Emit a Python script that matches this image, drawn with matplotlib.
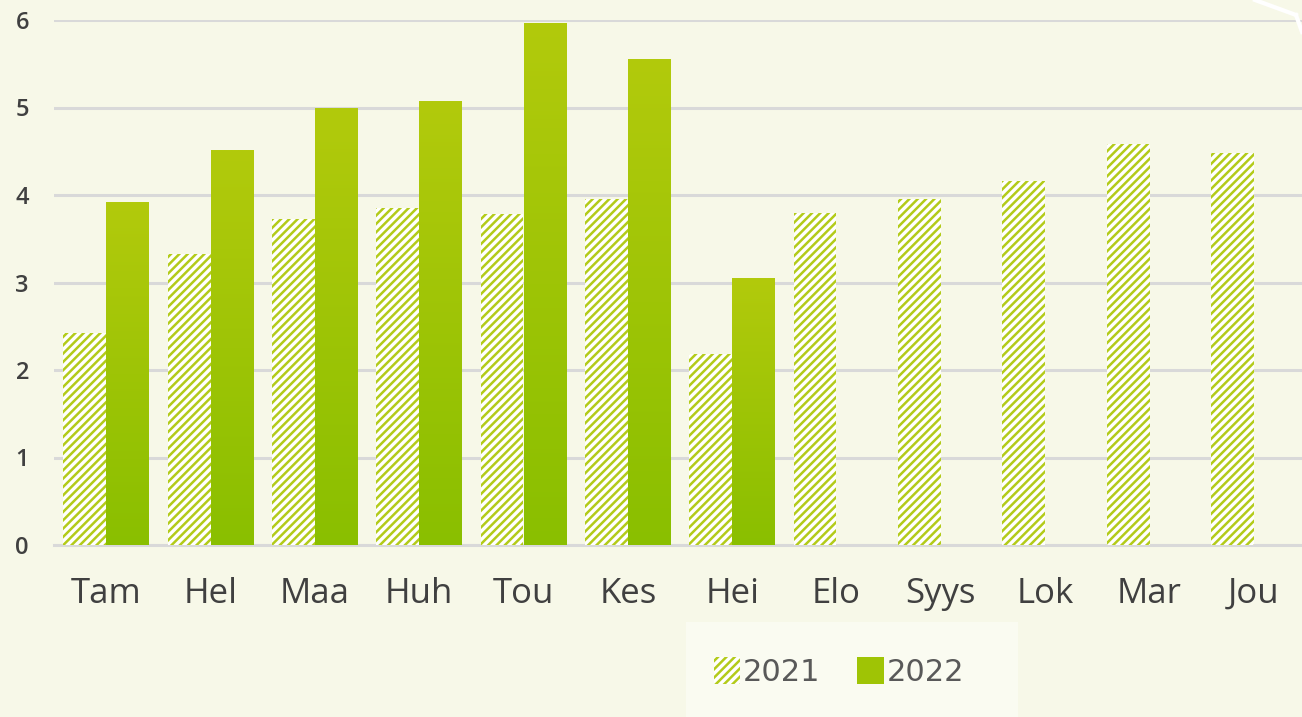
import numpy as np
import matplotlib
matplotlib.use('Agg')
import matplotlib.pyplot as plt
from matplotlib.patches import Patch, Rectangle
from matplotlib.colors import LinearSegmentedColormap

months = ['Tam', 'Hel', 'Maa', 'Huh', 'Tou', 'Kes', 'Hei', 'Elo', 'Syys', 'Lok', 'Mar', 'Jou']
vals_2021 = [2.42, 3.33, 3.73, 3.85, 3.78, 3.96, 2.18, 3.79, 3.95, 4.16, 4.58, 4.48]
vals_2022 = [3.92, 4.51, 4.99, 5.07, 5.96, 5.55, 3.05]
series_labels = ['2021', '2022']

BG = '#f7f8e8'
STRIPE = '#b3cb1a'
TOP_GREEN = '#b2ca0c'
BOTTOM_GREEN = '#8abf00'

plt.rcParams['hatch.linewidth'] = 1.8

fig = plt.figure(figsize=(13.02, 7.17), dpi=100, facecolor=BG)
ax = fig.add_axes([54 / 1302, 1 - 545 / 717, 1252 / 1302, 525 / 717])
ax.set_facecolor(BG)

x = np.arange(len(months))
w = 0.41
ax.bar(x - w / 2, vals_2021, width=w, facecolor='white', edgecolor=STRIPE,
       linewidth=0, hatch='////', zorder=3)

bars = ax.bar(x[:len(vals_2022)] + w / 2, vals_2022, width=w, color='none',
              linewidth=0, zorder=3)
cmap = LinearSegmentedColormap.from_list('g', [BOTTOM_GREEN, TOP_GREEN])
grad = np.linspace(0, 1, 256).reshape(-1, 1)
for b in bars:
    x0, y0 = b.get_x(), b.get_y()
    ax.imshow(grad, cmap=cmap, origin='lower', aspect='auto', zorder=3,
              extent=[x0, x0 + b.get_width(), y0, y0 + b.get_height()])

ax.set_xlim(-0.5, len(months) - 0.5)
ax.set_ylim(0, 6)
ax.set_yticks(range(0, 7))
ax.yaxis.grid(True, color='#d9d9d9', linewidth=2.2, zorder=0)
ax.set_axisbelow(True)
for s in ['top', 'right', 'left']:
    ax.spines[s].set_visible(False)
ax.spines['bottom'].set_color('#d9d9d9')
ax.spines['bottom'].set_linewidth(2.2)
ax.tick_params(length=0)
ax.set_xticks(x)
ax.set_xticklabels(months, fontsize=25, color='#404040', family='Open Sans')
ax.tick_params(axis='x', pad=23)
ax.tick_params(axis='y', pad=18)
for t in ax.get_yticklabels():
    t.set_fontsize(17)
    t.set_fontweight('semibold')
    t.set_family('Open Sans')
    t.set_color('#404040')

# legend box
fig.patches.append(Rectangle((686 / 1302, 0), 332 / 1302, 95 / 717,
                             transform=fig.transFigure, facecolor='#fafbf1',
                             edgecolor='none', zorder=0))
handles = [Patch(facecolor='white', edgecolor=STRIPE, linewidth=0, hatch='////'),
           Patch(facecolor='#9fc405', linewidth=0)]
leg = fig.legend(handles, series_labels, loc='center left',
                 bbox_to_anchor=(686 / 1302, 1 - 672 / 717), ncol=2, frameon=False,
                 prop={'family': 'DejaVu Sans', 'size': 22},
                 handlelength=0.88, handleheight=1.0, handletextpad=0.08,
                 columnspacing=1.2)
for t in leg.get_texts():
    t.set_color('#595959')

# white decoration at top-right corner
fig.add_artist(plt.Line2D([1255 / 1302, 1296 / 1302], [1.0, 1 - 15 / 717],
                          transform=fig.transFigure, color='white', linewidth=3))
fig.add_artist(plt.Line2D([1296 / 1302, 1302 / 1302], [1 - 15 / 717, 1 - 32 / 717],
                          transform=fig.transFigure, color='white', linewidth=3))

fig.savefig('out.png', dpi=100, facecolor=BG)
